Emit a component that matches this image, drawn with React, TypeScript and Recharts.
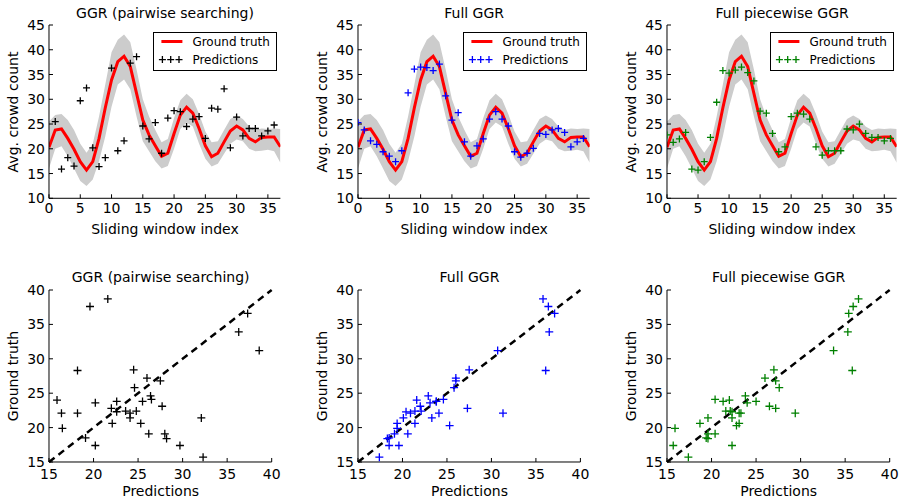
import React from "react";
import {
  Area,
  ComposedChart,
  Line,
  ReferenceLine,
  Scatter,
  ScatterChart,
  XAxis,
  YAxis,
} from "recharts";

// sliding window index 0..37
const windowIndex = [
  0, 1, 2, 3, 4, 5, 6, 7, 8, 9, 10, 11, 12, 13, 14, 15, 16, 17, 18, 19,
  20, 21, 22, 23, 24, 25, 26, 27, 28, 29, 30, 31, 32, 33, 34, 35, 36, 37,
];
const groundTruth = [
  20.3, 23.8, 24.0, 22.1, 19.9, 17.4, 15.7, 17.4, 22.1, 28.3, 33.9, 37.6, 38.7,
  36.6, 31.2, 25.8, 22.8, 20.6, 18.5, 19.1, 23.1, 26.8, 28.4, 27.2, 24.1, 20.6,
  18.4, 19.1, 21.4, 23.6, 24.6, 23.8, 22.1, 21.4, 22.3, 22.4, 22.4, 20.4,
];
const bandLow = [
  16.0, 20.0, 20.5, 18.5, 16.0, 13.5, 12.5, 13.8, 17.5, 22.5, 28.5, 33.0, 34.0,
  32.0, 26.5, 21.5, 19.5, 17.5, 16.0, 16.5, 20.0, 24.0, 25.3, 24.5, 21.0, 18.0,
  16.4, 17.0, 19.0, 21.0, 21.9, 21.5, 20.0, 19.5, 19.6, 19.8, 19.5, 17.2,
];
const bandHigh = [
  25.5, 26.8, 27.0, 25.8, 23.8, 21.0, 19.2, 21.0, 26.5, 33.0, 39.5, 42.0, 43.1,
  41.5, 36.0, 30.0, 26.5, 23.8, 21.3, 22.0, 26.2, 29.8, 31.1, 30.0, 27.0, 23.5,
  21.3, 21.5, 23.8, 26.0, 26.7, 26.0, 24.5, 23.8, 24.1, 24.0, 24.1, 24.0,
];
const predPairwise = [
  null, 25.5, 15.9, 18.2, 16.5, 29.7, 32.3, 20.2, 16.4, 18.2, 36.3, 19.6, 21.6,
  37.3, 38.6, 24.6, 22.0, 25.3, 19.1, 26.2, 27.7, 27.5, 24.5, 26.0, 26.5, 22.1,
  28.2, 28.0, 32.1, 20.2, 26.4, 22.6, 24.1, 24.1, 22.6, 23.6, 24.8, null,
];
const predFull = [
  25.3, 23.8, 21.6, 20.9, 19.4, 18.5, 17.4, 19.6, 31.3, 36.1, 36.5, 36.4, 35.8,
  37.1, 30.7, 25.8, 27.3, 21.4, 18.5, 20.6, 22.0, 26.0, 27.5, 26.0, 24.6, 19.4,
  18.3, 19.1, 20.1, 23.1, 22.9, 23.8, 24.1, 23.3, 20.4, 21.4, 22.1, null,
];
const predPiecewise = [
  22.8, 21.3, 22.0, 23.3, 15.9, 15.7, 17.4, 22.3, 29.4, 35.8, 35.3, 35.9, 36.5,
  35.4, 33.7, 27.6, 27.2, 23.1, 19.4, 20.4, 26.5, 27.2, 27.0, 26.0, 20.4, 18.7,
  19.6, 19.6, 19.6, 24.0, 23.8, 25.0, 23.1, 22.3, 22.3, 21.6, 22.1, null,
];

const titles = ["GGR (pairwise searching)", "Full GGR", "Full piecewise GGR"];
const predColors = ["#000000", "#0000ff", "#008000"];
const topXTicks = [0, 5, 10, 15, 20, 25, 30, 35];
const topYTicks = [10, 15, 20, 25, 30, 35, 40, 45];
const bottomTicks = [15, 20, 25, 30, 35, 40];

const FONT = "'DejaVu Sans', sans-serif";

// plot boxes (px)
const plotLefts = [49.3, 358.3, 667.3];
const topWidths = [231.4, 231.7, 229.7];
const bottomWidths = [222.7, 222.4, 222.7];
const TOP_Y = 25;
const TOP_H = 173.3;
const BOT_Y = 289.5;
const BOT_H = 172;
const AX_W = 45;
const AX_H = 45;
const PAD_R = 15;

const predSets = [predPairwise, predFull, predPiecewise];

const plus = (color: string, r: number) => (props: any) => {
  const { cx, cy } = props;
  if (cx == null || cy == null || isNaN(cx) || isNaN(cy)) return <g />;
  return (
    <path
      d={`M${cx - r},${cy}H${cx + r}M${cx},${cy - r}V${cy + r}`}
      stroke={color}
      strokeWidth={1.3}
      fill="none"
    />
  );
};

const bottomTick = (dy: number) => (props: any) => {
  const { x, y, payload } = props;
  return (
    <g>
      <line x1={x} y1={y} x2={x} y2={y - 4} stroke="#000" />
      <text x={x} y={y + dy} textAnchor="middle" fontSize={14} fill="#000" fontFamily={FONT}>
        {payload.value}
      </text>
    </g>
  );
};
const leftTick = (props: any) => {
  const { x, y, payload } = props;
  return (
    <g>
      <line x1={x} y1={y} x2={x + 4} y2={y} stroke="#000" />
      <text x={x - 4} y={y + 5} textAnchor="end" fontSize={14} fill="#000" fontFamily={FONT}>
        {payload.value}
      </text>
    </g>
  );
};
const topTick = (props: any) => (
  <line x1={props.x} y1={props.y} x2={props.x} y2={props.y + 4} stroke="#000" />
);
const rightTick = (props: any) => (
  <line x1={props.x} y1={props.y} x2={props.x - 4} y2={props.y} stroke="#000" />
);

function Text({ x, y, children, rotate = false, size = 14 }: any) {
  return (
    <div
      style={{
        position: "absolute",
        left: x,
        top: y,
        transform: `translate(-50%, -50%)${rotate ? " rotate(-90deg)" : ""}`,
        whiteSpace: "nowrap",
        fontSize: size,
        lineHeight: "16px",
        fontFamily: FONT,
        color: "#000",
      }}
    >
      {children}
    </div>
  );
}

function LegendBox({ right, color }: { right: number; color: string }) {
  const w = 124;
  const h = 39;
  const mark = plus(color, 3.5);
  return (
    <svg
      width={w}
      height={h}
      style={{ position: "absolute", left: right - w, top: 31.7, background: "#fff" }}
    >
      <rect x={0.5} y={0.5} width={w - 1} height={h - 1} fill="#fff" stroke="#000" />
      <line x1={8.4} x2={29.4} y1={9.5} y2={9.5} stroke="#ff0000" strokeWidth={3} />
      {[9.4, 17.7, 26].map((cx) => (
        <g key={cx}>{mark({ cx, cy: 27.6 })}</g>
      ))}
      <text x={39.4} y={13.8} fontSize={12} fontFamily={FONT}>Ground truth</text>
      <text x={39.4} y={31.6} fontSize={12} fontFamily={FONT}>Predictions</text>
    </svg>
  );
}

function TopPanel({ idx }: { idx: number }) {
  const left = plotLefts[idx];
  const w = topWidths[idx];
  const preds = predSets[idx];
  const rows = windowIndex.map((x, i) => ({
    x,
    gt: groundTruth[i],
    band: [bandLow[i], bandHigh[i]],
  }));
  const predRows = windowIndex
    .map((x, i) => ({ x, pred: preds[i] }))
    .filter((r) => r.pred != null);
  return (
    <>
      <div style={{ position: "absolute", left: left - AX_W, top: TOP_Y - 25 }}>
        <ComposedChart
          width={w + AX_W + PAD_R}
          height={TOP_H + 25 + AX_H}
          data={rows}
          margin={{ top: 25, right: PAD_R, bottom: 0, left: 0 }}
        >
          <XAxis
            dataKey="x"
            type="number"
            domain={[0, 37]}
            allowDataOverflow
            ticks={topXTicks}
            interval={0}
            height={AX_H}
            tickSize={0}
            tickMargin={0}
            tickLine={false}
            tick={bottomTick(15)}
            axisLine={{ stroke: "#000" }}
          />
          <XAxis
            xAxisId="top"
            orientation="top"
            type="number"
            domain={[0, 37]}
            allowDataOverflow
            ticks={topXTicks}
            interval={0}
            height={0}
            tickSize={0}
            tickMargin={0}
            tickLine={false}
            tick={topTick}
            axisLine={{ stroke: "#000" }}
          />
          <YAxis
            type="number"
            domain={[10, 45]}
            allowDataOverflow
            ticks={topYTicks}
            interval={0}
            width={AX_W}
            tickSize={0}
            tickMargin={0}
            tickLine={false}
            tick={leftTick}
            axisLine={{ stroke: "#000" }}
          />
          <YAxis
            yAxisId="right"
            orientation="right"
            type="number"
            domain={[10, 45]}
            allowDataOverflow
            ticks={topYTicks}
            interval={0}
            width={0}
            tickSize={0}
            tickMargin={0}
            tickLine={false}
            tick={rightTick}
            axisLine={{ stroke: "#000" }}
          />
          <Area
            dataKey="band"
            type="linear"
            stroke="none"
            fill="#cccccc"
            fillOpacity={1}
            isAnimationActive={false}
            activeDot={false}
          />
          <Line
            dataKey="gt"
            type="linear"
            stroke="#ff0000"
            strokeWidth={3}
            dot={false}
            activeDot={false}
            isAnimationActive={false}
          />
          <Scatter
            data={predRows}
            dataKey="pred"
            shape={plus(predColors[idx], 3.5)}
            isAnimationActive={false}
          />
        </ComposedChart>
      </div>
      <LegendBox right={left + w - 3.4} color={predColors[idx]} />
      <Text x={left + w / 2} y={13}>{titles[idx]}</Text>
      <Text x={left + w / 2} y={229}>Sliding window index</Text>
      <Text x={left - 36} y={TOP_Y + TOP_H / 2} rotate>Avg. crowd count</Text>
    </>
  );
}

function BottomPanel({ idx }: { idx: number }) {
  const left = plotLefts[idx];
  const w = bottomWidths[idx];
  const preds = predSets[idx];
  const pairs = windowIndex
    .map((x, i) => ({ p: preds[i], g: groundTruth[i] }))
    .filter((r) => r.p != null);
  return (
    <>
      <div style={{ position: "absolute", left: left - AX_W, top: BOT_Y - 25 }}>
        <ScatterChart
          width={w + AX_W + PAD_R}
          height={BOT_H + 25 + AX_H}
          margin={{ top: 25, right: PAD_R, bottom: 0, left: 0 }}
        >
          <XAxis
            dataKey="p"
            type="number"
            domain={[15, 40]}
            allowDataOverflow
            ticks={bottomTicks}
            interval={0}
            height={AX_H}
            tickSize={0}
            tickMargin={0}
            tickLine={false}
            tick={bottomTick(17)}
            axisLine={{ stroke: "#000" }}
          />
          <XAxis
            xAxisId="top"
            orientation="top"
            type="number"
            domain={[15, 40]}
            allowDataOverflow
            ticks={bottomTicks}
            interval={0}
            height={0}
            tickSize={0}
            tickMargin={0}
            tickLine={false}
            tick={topTick}
            axisLine={{ stroke: "#000" }}
          />
          <YAxis
            dataKey="g"
            type="number"
            domain={[15, 40]}
            allowDataOverflow
            ticks={bottomTicks}
            interval={0}
            width={AX_W}
            tickSize={0}
            tickMargin={0}
            tickLine={false}
            tick={leftTick}
            axisLine={{ stroke: "#000" }}
          />
          <YAxis
            yAxisId="right"
            orientation="right"
            type="number"
            domain={[15, 40]}
            allowDataOverflow
            ticks={bottomTicks}
            interval={0}
            width={0}
            tickSize={0}
            tickMargin={0}
            tickLine={false}
            tick={rightTick}
            axisLine={{ stroke: "#000" }}
          />
          <Scatter
            data={pairs}
            shape={plus(predColors[idx], 4)}
            isAnimationActive={false}
          />
          <ReferenceLine
            segment={[
              { x: 15, y: 15 },
              { x: 40, y: 40 },
            ]}
            stroke="#000"
            strokeWidth={2.5}
            strokeDasharray="7 5"
          />
        </ScatterChart>
      </div>
      <Text x={left + w / 2} y={277}>{titles[idx]}</Text>
      <Text x={left + w / 2} y={491}>Predictions</Text>
      <Text x={left - 36} y={BOT_Y + BOT_H / 2} rotate>Ground truth</Text>
    </>
  );
}

export default function App() {
  return (
    <div
      style={{
        position: "absolute",
        left: 0,
        top: 0,
        width: 901,
        height: 499,
        background: "#fff",
        overflow: "hidden",
        fontFamily: FONT,
      }}
    >
      {[0, 1, 2].map((i) => (
        <React.Fragment key={i}>
          <TopPanel idx={i} />
          <BottomPanel idx={i} />
        </React.Fragment>
      ))}
    </div>
  );
}
